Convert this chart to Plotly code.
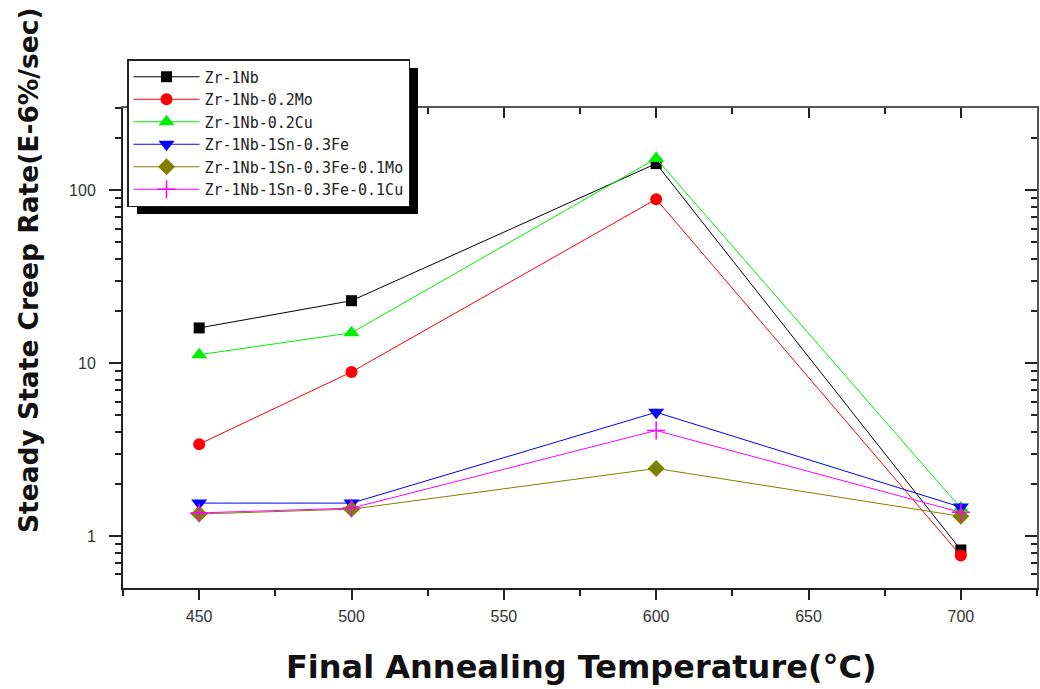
import plotly.graph_objects as go
import numpy as np

temps = [450, 500, 600, 700]
series_names = ["Zr-1Nb", "Zr-1Nb-0.2Mo", "Zr-1Nb-0.2Cu", "Zr-1Nb-1Sn-0.3Fe",
                "Zr-1Nb-1Sn-0.3Fe-0.1Mo", "Zr-1Nb-1Sn-0.3Fe-0.1Cu"]
zr_1nb = [16, 23, 143, 0.83]
zr_1nb_02mo = [3.4, 8.9, 89, 0.77]
zr_1nb_02cu = [11.2, 15, 153, 1.45]
zr_1nb_1sn_03fe = [1.55, 1.55, 5.2, 1.47]
zr_1nb_1sn_03fe_01mo = [1.34, 1.43, 2.46, 1.3]
zr_1nb_1sn_03fe_01cu = [1.36, 1.45, 4.08, 1.37]
x_ticks = [450, 500, 550, 600, 650, 700]
y_ticks = [1, 10, 100]
y_tick_labels = ["1", "10", "100"]
y_minor_ticks = [0.6, 0.7, 0.8, 0.9, 2, 3, 4, 5, 6, 7, 8, 9,
                 20, 30, 40, 50, 60, 70, 80, 90, 200, 300]
x_title = "Final Annealing Temperature(°C)"
y_title = "Steady State Creep Rate(E-6%/sec)"

values = [zr_1nb, zr_1nb_02mo, zr_1nb_02cu, zr_1nb_1sn_03fe, zr_1nb_1sn_03fe_01mo, zr_1nb_1sn_03fe_01cu]
colors = ["#000000", "#ff0000", "#00ee00", "#0000ff", "#808000", "#ff00ff"]
symbols = ["square", "circle", "triangle-up", "triangle-down", "diamond", "cross-thin"]
sizes = [11, 12, 14, 14, 13, 13]

fig = go.Figure()
for name, v, c, s, sz in zip(series_names, values, colors, symbols, sizes):
    marker = dict(symbol=s, size=sz, color=c)
    if s == "cross-thin":
        marker["line"] = dict(color=c, width=1.5)
    fig.add_trace(go.Scatter(x=temps, y=v, name=name, mode="lines+markers",
                             line=dict(color=c, width=1), marker=marker))

# overlay axes for inward ticks on top/right
fig.add_trace(go.Scatter(x=[], y=[], xaxis="x2", yaxis="y2", showlegend=False, hoverinfo="skip"))

xr = [425, 725]
yr = [np.log10(0.5), np.log10(300)]
W, H = 1040, 689
ml, mr, mt, mb = 123, 3, 108, 101
pw, ph = W - ml - mr, H - mt - mb

fig.update_layout(
    width=W, height=H,
    margin=dict(l=ml, r=mr, t=mt, b=mb, autoexpand=False),
    paper_bgcolor="white", plot_bgcolor="white",
    font=dict(family="Liberation Sans, Arial, sans-serif", color="#222"),
    xaxis=dict(range=xr, tickvals=x_ticks, ticks="outside", ticklen=10, tickwidth=2,
               tickcolor="#222", showline=True, linewidth=2, linecolor="#222",
               showgrid=False, zeroline=False, tickfont=dict(size=16, color="#333"),
               automargin=False, ticklabelstandoff=3,
               minor=dict(dtick=25, tick0=425, ticks="outside", ticklen=6, tickwidth=2, tickcolor="#222")),
    yaxis=dict(type="log", range=yr, tickvals=y_ticks, ticktext=y_tick_labels,
               ticks="outside", ticklen=12, tickwidth=2, tickcolor="#222",
               showline=True, linewidth=2, linecolor="#222", showgrid=False, zeroline=False,
               tickfont=dict(size=16, color="#333"), automargin=False, ticklabelstandoff=10,
               minor=dict(tickvals=y_minor_ticks, ticks="outside", ticklen=6, tickwidth=1.5,
                          tickcolor="#222", showgrid=False)),
    xaxis2=dict(range=xr, overlaying="x", side="top", anchor="y2", tickvals=x_ticks,
                ticks="inside", ticklen=10, tickwidth=2, tickcolor="#222", showticklabels=False,
                showline=True, linewidth=1.5, linecolor="#555", showgrid=False, zeroline=False,
                automargin=False,
                minor=dict(dtick=25, tick0=425, ticks="inside", ticklen=6, tickwidth=2, tickcolor="#222")),
    yaxis2=dict(type="log", range=yr, overlaying="y", side="right", anchor="x2", tickvals=y_ticks,
                ticks="inside", ticklen=12, tickwidth=2, tickcolor="#222", showticklabels=False,
                showline=True, linewidth=1.5, linecolor="#555", showgrid=False, zeroline=False,
                automargin=False,
                minor=dict(tickvals=y_minor_ticks, ticks="inside", ticklen=6, tickwidth=1.5,
                           tickcolor="#222", showgrid=False)),
    legend=dict(x=4 / pw, y=1 + 49 / ph, xanchor="left", yanchor="top",
                bgcolor="white", bordercolor="#222", borderwidth=1.5,
                font=dict(family="DejaVu Sans Mono, monospace", size=15, color="#222"),
                itemwidth=66, tracegroupgap=0),
    showlegend=True,
)

# axis titles
fig.add_annotation(text="<b>" + x_title + "</b>", xref="paper", yref="paper",
                   x=(581 - ml) / pw, y=-(667 - (H - mb)) / ph, showarrow=False,
                   xanchor="center", yanchor="middle",
                   font=dict(family="DejaVu Sans, sans-serif", size=32, color="#111"))
fig.add_annotation(text="<b>" + y_title + "</b>", xref="paper", yref="paper",
                   x=-(ml - 28) / pw, y=1 - (270 - mt) / ph, showarrow=False, textangle=-90,
                   xanchor="center", yanchor="middle",
                   font=dict(family="DejaVu Sans, sans-serif", size=26.5, color="#111"))

# legend drop shadow
fig.add_shape(type="rect", xref="paper", yref="paper",
              x0=(137 - ml) / pw, x1=(418 - ml) / pw, y0=1 - (214 - mt) / ph, y1=1 + 40 / ph,
              fillcolor="black", line=dict(width=0), layer="above")

fig.write_html("out.html", post_script="document.body.style.margin='0';",
               config={"displayModeBar": False})
